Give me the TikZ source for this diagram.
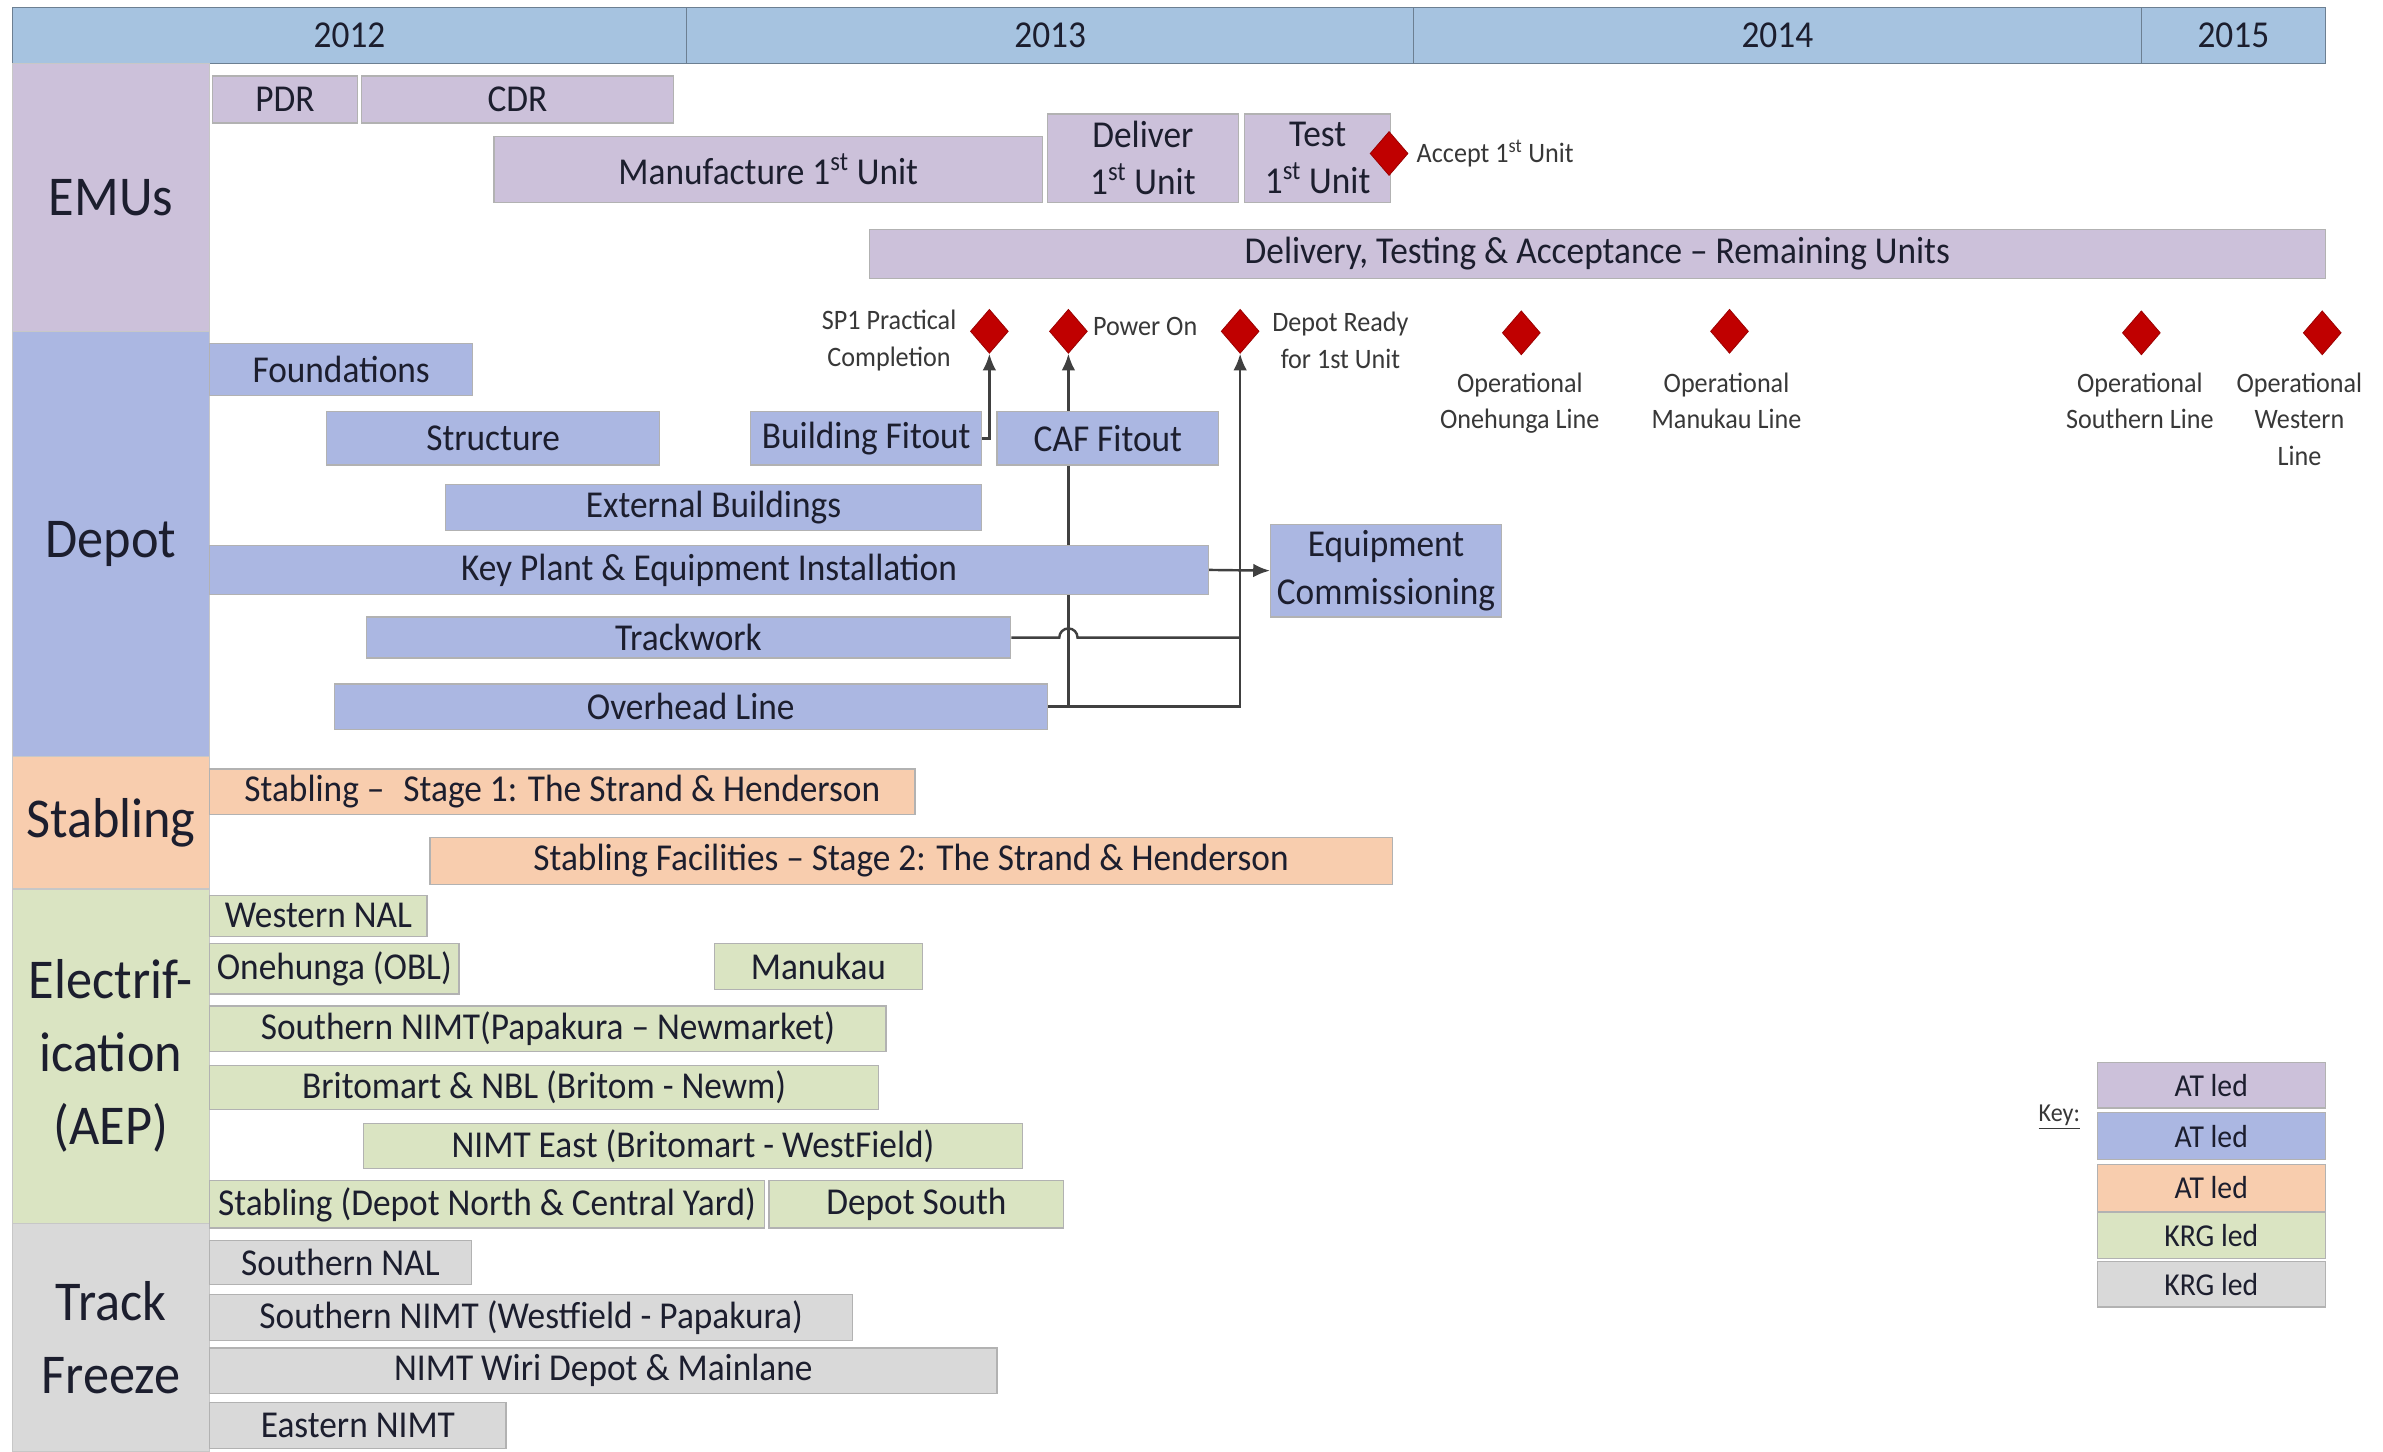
\documentclass[tikz,border=0pt]{standalone}
\usepackage{fontspec}
\setmainfont{Carlito}[FakeStretch=0.93]
\usetikzlibrary{shapes.geometric,arrows.meta}
\definecolor{hdr}{HTML}{A6C3E0}
\definecolor{emu}{HTML}{CCC1DA}
\definecolor{dep}{HTML}{ABB7E2}
\definecolor{stb}{HTML}{F8CDAE}
\definecolor{ele}{HTML}{DAE4C2}
\definecolor{trk}{HTML}{D9D9D9}
\definecolor{msr}{HTML}{C00000}
\definecolor{txt}{HTML}{1C1E2E}
\definecolor{ltxt}{HTML}{383838}
\definecolor{con}{HTML}{404040}
\pgfdeclarelayer{paper}
\pgfdeclarelayer{background}
\pgfsetlayers{paper,background,main}
\newcommand\ganttbox[7]{%
  \pgfmathsetmacro\gcx{(#3+#5)/2}%
  \pgfmathsetmacro\gcy{(#4+#6)/2}%
  \pgfmathsetmacro\gbw{#5-#3}%
  \pgfmathsetmacro\gbh{#6-#4}%
  \node[#2, minimum width=\gbw pt, minimum height=\gbh pt] (#1) at (\gcx,\gcy) {#7};}
\begin{document}
\begin{tikzpicture}[x=1pt,y=-1pt,
  bar/.style={draw=black!30, line width=0.8pt, inner sep=0pt, text=txt,
    font=\fontsize{25}{31}\selectfont, align=center},
  emubar/.style={bar, fill=emu},
  depbar/.style={bar, fill=dep},
  stbbar/.style={bar, fill=stb},
  elebar/.style={bar, fill=ele},
  trkbar/.style={bar, fill=trk},
  keybar/.style={bar, font=\fontsize{21}{24}\selectfont},
  hdrbar/.style={fill=hdr, draw=hdr!65!black, line width=0.7pt, inner sep=0pt,
    text=txt, font=\fontsize{25}{28}\selectfont},
  cat/.style={draw=black!22, line width=0.8pt, inner sep=0pt, text=txt,
    font=\fontsize{37}{48}\selectfont, align=center},
  mile/.style={diamond, fill=msr, draw=msr!80!black, line width=0.5pt,
    minimum width=25pt, minimum height=29pt, inner sep=0pt},
  mlab/.style={text=ltxt, font=\fontsize{18.5}{24}\selectfont, align=center, inner sep=0pt},
  conn/.style={draw=con, line width=1.6pt},
  arr/.style={conn, -{Latex[length=11pt,width=9pt]}},
]
\useasboundingbox (0,0) rectangle (1568,955);
\begin{pgfonlayer}{paper}
  \fill[white] (0,0) rectangle (1568,955);
\end{pgfonlayer}

% header
\ganttbox{y12}{hdrbar}{8}{5}{452}{42}{2012}
\ganttbox{y13}{hdrbar}{452}{5}{930}{42}{2013}
\ganttbox{y14}{hdrbar}{930}{5}{1409}{42}{2014}
\ganttbox{y15}{hdrbar}{1409}{5}{1530}{42}{2015}

% categories
\ganttbox{cEMU}{cat,fill=emu}{8}{42}{138}{218}{EMUs}
\ganttbox{cDep}{cat,fill=dep}{8}{218}{138}{498}{Depot}
\ganttbox{cStb}{cat,fill=stb}{8}{498}{138}{585}{Stabling}
\ganttbox{cEle}{cat,fill=ele}{8}{585}{138}{805}{Electrif-\\ication\\(AEP)}
\ganttbox{cTrk}{cat,fill=trk}{8}{805}{138}{955}{Track\\Freeze}

% EMUs
\ganttbox{pdr}{emubar}{140}{50}{235}{81}{PDR}
\ganttbox{cdr}{emubar}{238}{50}{443}{81}{CDR}
\ganttbox{mfg}{emubar}{325}{90}{686}{133}{Manufacture 1\textsuperscript{st} Unit}
\ganttbox{dlv}{emubar}{689}{75}{815}{133}{Deliver\\1\textsuperscript{st} Unit}
\ganttbox{tst}{emubar}{819}{75}{915}{133}{Test\\1\textsuperscript{st} Unit}
\ganttbox{rem}{emubar}{572}{151}{1530}{183}{Delivery, Testing \& Acceptance – Remaining Units}
\node[mile] (acc) at (914,101) {};
\node[mlab, anchor=west] (accl) at (932,101) {Accept 1\textsuperscript{st} Unit};

% Depot
\ganttbox{fnd}{depbar}{138}{226}{311}{260}{Foundations}
\ganttbox{str}{depbar}{215}{271}{434}{306}{Structure}
\ganttbox{bft}{depbar}{494}{271}{646}{306}{Building Fitout}
\ganttbox{caf}{depbar}{656}{271}{802}{306}{CAF Fitout}
\ganttbox{ext}{depbar}{293}{319}{646}{349}{External Buildings}
\ganttbox{kpe}{depbar}{138}{359}{795}{391}{Key Plant \& Equipment Installation}
\ganttbox{eqc}{depbar}{836}{345}{988}{406}{Equipment\\Commissioning}
\ganttbox{trw}{depbar}{241}{406}{665}{433}{Trackwork}
\ganttbox{ohl}{depbar}{220}{450}{689}{480}{Overhead Line}

% milestones
\node[mile] (m1) at (651,218) {};
\node[mile] (m2) at (703,218) {};
\node[mile] (m3) at (816,218) {};
\node[mile] (m4) at (1001,219) {};
\node[mile] (m5) at (1138,218) {};
\node[mile] (m6) at (1409,219) {};
\node[mile] (m7) at (1528,219) {};
\node[mlab] (l1) at (585,224) {SP1 Practical\\Completion};
\node[mlab, anchor=west] (l2) at (719,215) {Power On};
\node[mlab] (l3) at (882,224) {Depot Ready\\for 1st Unit};
\node[mlab, anchor=north] (l4) at (1000,245) {Operational\\Onehunga Line};
\node[mlab, anchor=north] (l5) at (1136,245) {Operational\\Manukau Line};
\node[mlab, anchor=north] (l6) at (1408,245) {Operational\\Southern Line};
\node[mlab, anchor=north] (l7) at (1513,245) {Operational\\Western\\Line};

% connectors (behind the bars)
\begin{pgfonlayer}{background}
  \draw[arr] (bft.east) -| (m1.south);
  \draw[arr] (ohl.east) -| (m3.south);
  \draw[arr] (m2.south |- ohl.east) -- (m2.south);
  \draw[conn] (trw.east) -- ([xshift=-6pt]m2.south |- trw.east)
     arc[start angle=180, end angle=0, radius=6pt] -- (m3.south |- trw.east);
  \draw[arr] (kpe.east) -- (eqc.west);
\end{pgfonlayer}

% Stabling
\ganttbox{s1}{stbbar}{138}{506}{602}{536}{Stabling –\enspace Stage 1: The Strand \& Henderson}
\ganttbox{s2}{stbbar}{283}{551}{916}{582}{Stabling Facilities – Stage 2: The Strand \& Henderson}

% Electrification
\ganttbox{wnal}{elebar}{138}{589}{281}{616}{Western NAL}
\ganttbox{obl}{elebar}{138}{621}{302}{654}{Onehunga (OBL)}
\ganttbox{man}{elebar}{470}{621}{607}{651}{Manukau}
\ganttbox{snimt}{elebar}{138}{662}{583}{692}{Southern NIMT(Papakura – Newmarket)}
\ganttbox{brit}{elebar}{138}{701}{578}{730}{Britomart \& NBL (Britom - Newm)}
\ganttbox{neast}{elebar}{239}{739}{673}{769}{NIMT East (Britomart - WestField)}
\ganttbox{stdep}{elebar}{138}{777}{503}{808}{Stabling (Depot North \& Central Yard)}
\ganttbox{dsouth}{elebar}{506}{777}{700}{808}{Depot South}

% Track Freeze
\ganttbox{snal}{trkbar}{138}{816}{310}{845}{Southern NAL}
\ganttbox{snw}{trkbar}{138}{852}{561}{882}{Southern NIMT (Westfield - Papakura)}
\ganttbox{wiri}{trkbar}{138}{887}{656}{917}{NIMT Wiri Depot \& Mainlane}
\ganttbox{enimt}{trkbar}{138}{923}{333}{953}{Eastern NIMT}

% Key
\node[text=ltxt, font=\fontsize{17}{18}\selectfont, inner sep=0pt] (key) at (1355,735) {\underline{Key:}};
\ganttbox{k1}{keybar,fill=emu}{1380}{699}{1530}{729}{AT led}
\ganttbox{k2}{keybar,fill=dep}{1380}{732}{1530}{763}{AT led}
\ganttbox{k3}{keybar,fill=stb}{1380}{766}{1530}{797}{AT led}
\ganttbox{k4}{keybar,fill=ele}{1380}{798}{1530}{828}{KRG led}
\ganttbox{k5}{keybar,fill=trk}{1380}{830}{1530}{860}{KRG led}
\end{tikzpicture}
\end{document}
